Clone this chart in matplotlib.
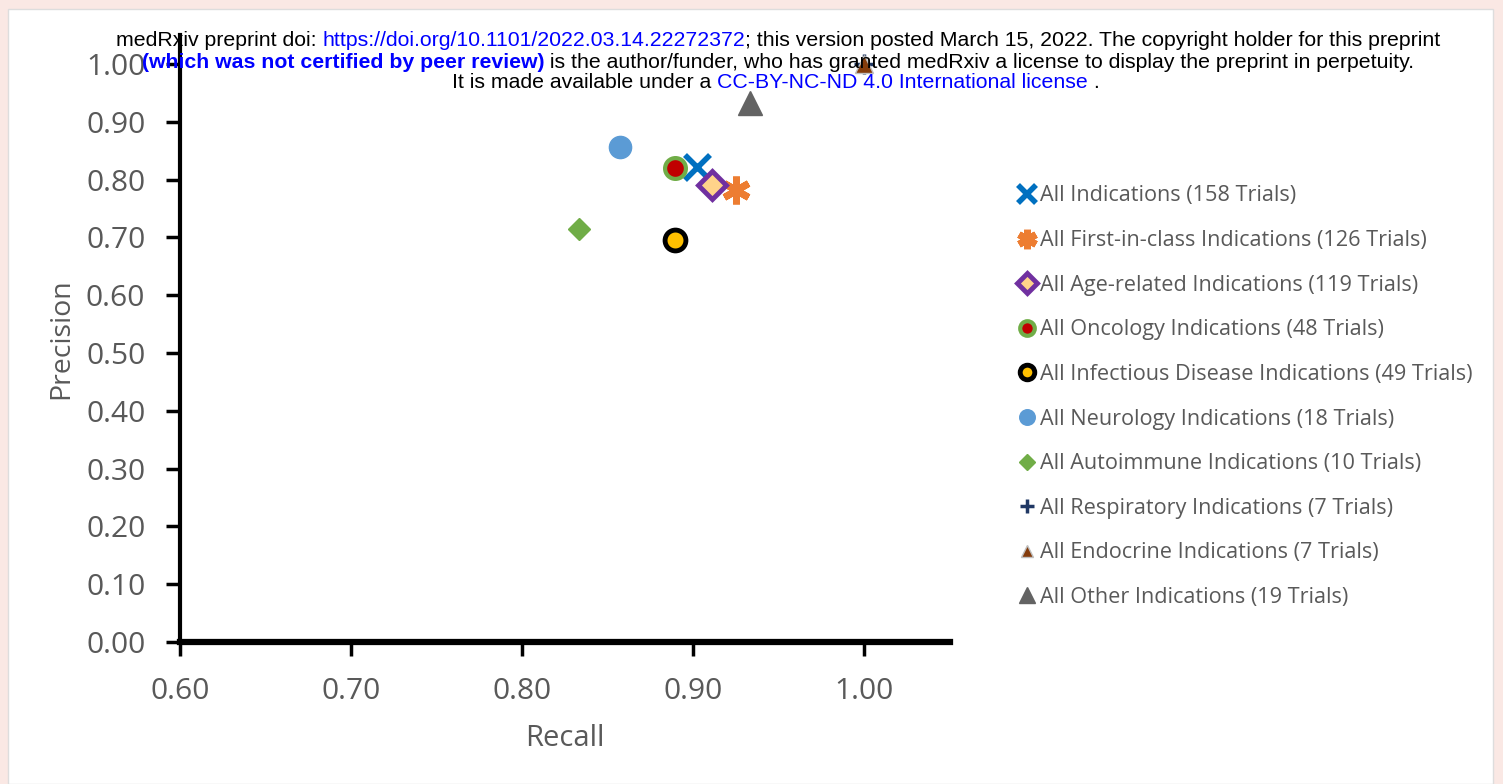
import matplotlib
matplotlib.use("Agg")
import matplotlib.pyplot as plt
from matplotlib.patches import Rectangle

# ---- data ----
labels = [
    "All Indications (158 Trials)",
    "All First-in-class Indications (126 Trials)",
    "All Age-related Indications (119 Trials)",
    "All Oncology Indications (48 Trials)",
    "All Infectious Disease Indications (49 Trials)",
    "All Neurology Indications (18 Trials)",
    "All Autoimmune Indications (10 Trials)",
    "All Respiratory Indications (7 Trials)",
    "All Endocrine Indications (7 Trials)",
    "All Other Indications (19 Trials)",
]
recall = [0.902, 0.925, 0.911, 0.889, 0.889, 0.857, 0.833, 1.00, 1.00, 0.933]
precision = [0.822, 0.782, 0.791, 0.820, 0.696, 0.857, 0.714, 1.00, 1.00, 0.933]
x_ticks = [0.60, 0.70, 0.80, 0.90, 1.00]
y_ticks = [0.0, 0.1, 0.2, 0.3, 0.4, 0.5, 0.6, 0.7, 0.8, 0.9, 1.0]

styles = [
    dict(marker="x", ms=18, mec="#0070C0", mfc="#0070C0", mew=4),
    dict(marker=(6, 2, 0), ms=20, mec="#ED7D31", mfc="#ED7D31", mew=5),
    dict(marker="D", ms=14, mec="#7030A0", mfc="#FFD38A", mew=3.5),
    dict(marker="o", ms=15, mec="#70AD47", mfc="#C00000", mew=3),
    dict(marker="o", ms=15, mec="#000000", mfc="#FFC000", mew=3.5),
    dict(marker="o", ms=16, mec="#5B9BD5", mfc="#5B9BD5", mew=1),
    dict(marker="D", ms=11, mec="#70AD47", mfc="#70AD47", mew=1),
    dict(marker="+", ms=14, mec="#203864", mfc="#203864", mew=2.5),
    dict(marker="^", ms=13, mec="#BFBFBF", mfc="#843C0C", mew=1),
    dict(marker="^", ms=17, mec="#636363", mfc="#636363", mew=1),
]

W, H = 1503, 784
fig = plt.figure(figsize=(W / 100, H / 100), dpi=100)
fig.patch.set_facecolor("#FAE8E4")
fig.patches.append(Rectangle((8 / W, 0), (1493 - 8) / W, (H - 9) / H,
                             transform=fig.transFigure, facecolor="white",
                             edgecolor="#DDDDDD", linewidth=1, zorder=-10))

ax = fig.add_axes([180 / W, 1 - 642 / H, (950 - 180) / W, (642 - 35) / H])
ax.set_zorder(2)
ax.set_facecolor("none")
for lab, r, p, st in zip(labels, recall, precision, styles):
    ax.plot([r], [p], linestyle="none", label=lab, clip_on=False, zorder=3, **st)

ax.set_xlim(0.60, 1.05)
ax.set_ylim(0.0, 1.05)
ax.set_xticks(x_ticks)
ax.set_yticks(y_ticks)
ax.set_xticklabels([f"{v:.2f}" for v in x_ticks])
ax.set_yticklabels([f"{v:.2f}" for v in y_ticks])
ax.spines["top"].set_visible(False)
ax.spines["right"].set_visible(False)
ax.spines["left"].set_linewidth(3)
ax.spines["bottom"].set_linewidth(4.5)
ax.tick_params(axis="both", direction="out", length=10, width=2.5, color="black",
               labelcolor="#595959", labelsize=21.5)
ax.tick_params(axis="x", pad=15.5)
ax.tick_params(axis="y", pad=15)
for t in ax.get_xticklabels() + ax.get_yticklabels():
    t.set_fontfamily("Open Sans")
ax.set_xlabel("Recall", fontsize=21, color="#595959", family="Open Sans", labelpad=13)
ax.set_ylabel("Precision", fontsize=20.5, color="#595959", family="Open Sans", labelpad=8)

leg = ax.legend(loc="upper left", bbox_to_anchor=(999 / W, 1 - 166 / H),
                bbox_transform=fig.transFigure, frameon=False, markerscale=0.7,
                handlelength=0.8, handletextpad=0.2, labelspacing=1.09,
                prop=dict(family="Open Sans", size=15.6))
for t in leg.get_texts():
    t.set_color("#595959")

# ---- medRxiv header ----
fig.canvas.draw()
renderer = fig.canvas.get_renderer()

def draw_line(segments, xc, y, size=15.3):
    widths = []
    for txt, col, wt in segments:
        t = fig.text(0, 0, txt, fontsize=size, family="Liberation Sans", weight=wt)
        widths.append(t.get_window_extent(renderer).width)
        t.remove()
    total = sum(widths)
    x = xc - total / 2
    for (txt, col, wt), w in zip(segments, widths):
        fig.text(x / W, 1 - y / H, txt, fontsize=size, family="Liberation Sans",
                 weight=wt, color=col, va="center", ha="left", zorder=10)
        x += w

draw_line([("medRxiv preprint doi: ", "black", "normal"),
           ("https://doi.org/10.1101/2022.03.14.22272372", "#0000FF", "normal"),
           ("; this version posted March 15, 2022. The copyright holder for this preprint", "black", "normal")],
          778, 41)
draw_line([("(which was not certified by peer review)", "#0000FF", "bold"),
           (" is the author/funder, who has granted medRxiv a license to display the preprint in perpetuity.", "black", "normal")],
          778, 62)
draw_line([("It is made available under a ", "black", "normal"),
           ("CC-BY-NC-ND 4.0 International license", "#0000FF", "normal"),
           (" .", "black", "normal")],
          776, 83)

fig.savefig("out.png", dpi=100, facecolor=fig.get_facecolor())
